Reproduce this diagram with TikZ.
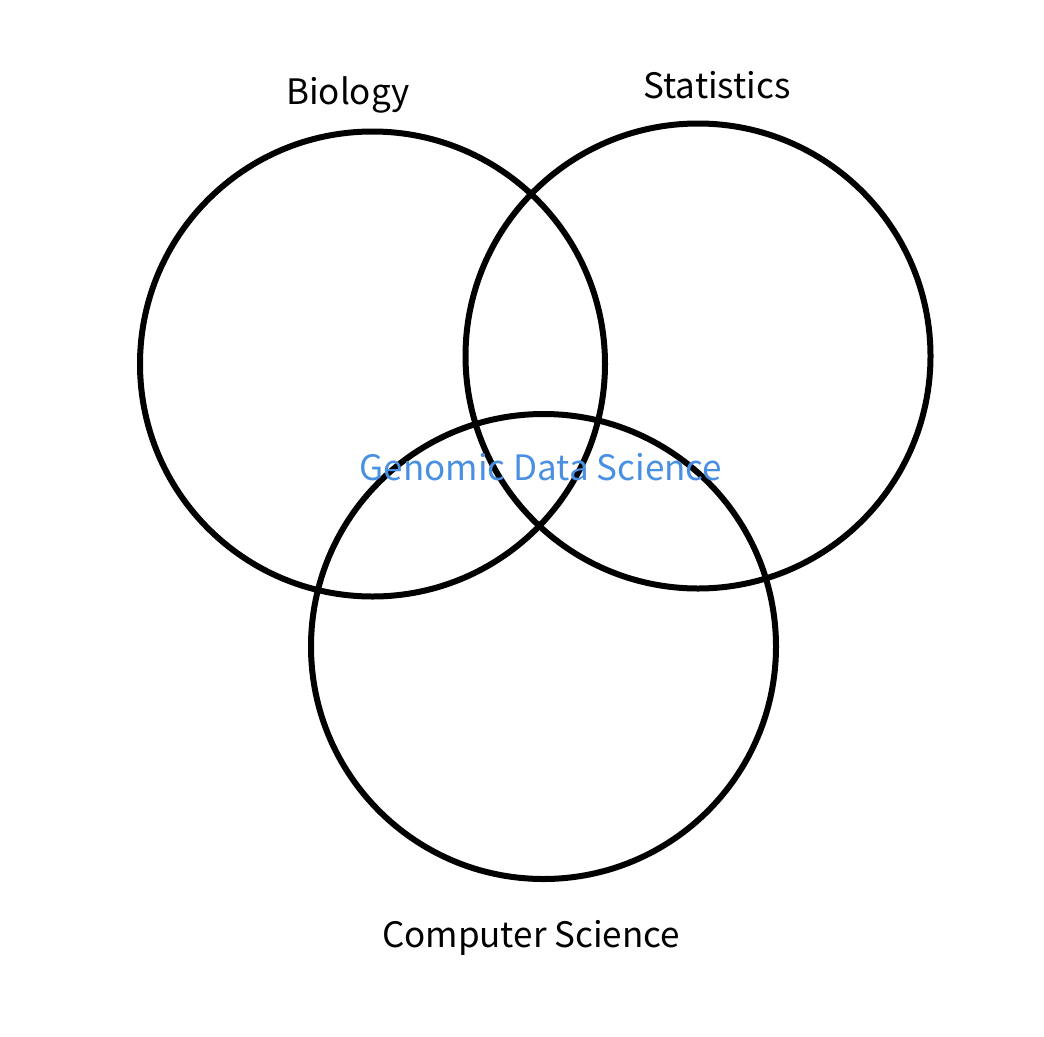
\documentclass[tikz,border=0pt]{standalone}
\usepackage{fontspec}
\setmainfont{Noto Sans CJK KR}
\usepackage{xcolor}
\usepackage{tikz}
\usetikzlibrary{positioning}

\definecolor{gdsblue}{RGB}{74,144,226}

\begin{document}
\begin{tikzpicture}[
  x=1pt, y=-1pt,
  field/.style={draw, circle, line width=6pt, minimum size=465pt,
                inner sep=0pt},
  lbl/.style={font=\fontsize{35}{42}\selectfont, inner sep=0pt},
  core/.style={font=\fontsize{35}{42}\selectfont, inner sep=0pt, gdsblue},
]
\useasboundingbox (0,0) rectangle (1044,1036);

% ---- Fields ----------------------------------------------------------------
\node[field] (bio)  at (372.5, 364) {};
\node[field] (stat) at (698, 356) {};
\node[field] (cs)   at (543.5, 646.5) {};

% ---- Labels ----------------------------------------------------------------
\node[lbl] (biolbl)  at (348, 95)  {Biology};
\node[lbl] (statlbl) at (717, 85)  {Statistics};
\node[lbl] (cslbl)   at (531, 938) {Computer Science};

% ---- Overlap ---------------------------------------------------------------
\node[core] (gds) at (541, 467) {Genomic Data Science};

\end{tikzpicture}
\end{document}
